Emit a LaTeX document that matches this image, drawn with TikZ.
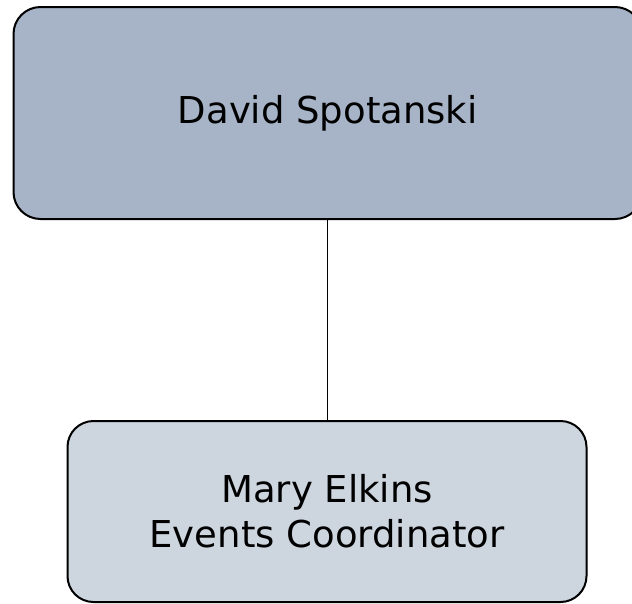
\documentclass[tikz,border=0pt]{standalone}
\usepackage{fontspec}
\setmainfont{DejaVu Sans}
\definecolor{topfill}{HTML}{A7B4C7}
\definecolor{botfill}{HTML}{CDD5DF}
\begin{document}
\begin{tikzpicture}[x=1pt,y=-1pt,
  box/.style={draw=black, line width=2pt, rounded corners=27pt, inner sep=0pt, align=center,
    font=\fontsize{37}{45}\selectfont}]
\useasboundingbox (0,0) rectangle (632,603);
\clip (0,0) rectangle (632,603);
\node[box, fill=topfill, minimum width=628.5pt, minimum height=212pt] (top) at (327.75,113) {David Spotanski};
\node[box, fill=botfill, minimum width=519pt, minimum height=181pt, rounded corners=26pt] (bot) at (327,511.5) {Mary Elkins\\Events Coordinator};
\draw[line width=1pt] (bot.north |- top.south) -- (bot.north);
\end{tikzpicture}
\end{document}
